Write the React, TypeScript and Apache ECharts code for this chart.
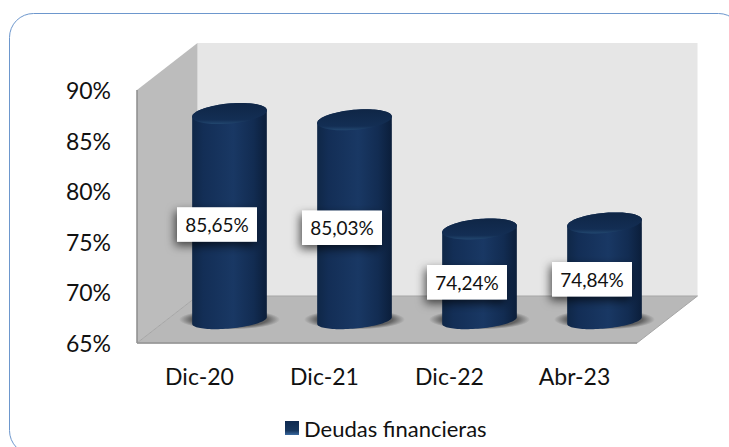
import React, { useEffect, useRef } from "react";
import * as echarts from "echarts";

const categories = ["Dic-20", "Dic-21", "Dic-22", "Abr-23"];
const values = [85.65, 85.03, 74.24, 74.84];
const valueLabels = ["85,65%", "85,03%", "74,24%", "74,84%"];
const seriesName = "Deudas financieras";

const FONT = "Lato";
const BAR_RX = 37.5;
const TOP_RY = 10;
const BASE_RY = 8;
const TILT = (-5.3 * Math.PI) / 180;

function ellipseArc(cx: number, cy: number, ry: number, fromDeg: number, toDeg: number) {
  const pts: number[][] = [];
  const n = 48;
  for (let i = 0; i <= n; i++) {
    const t = ((fromDeg + ((toDeg - fromDeg) * i) / n) * Math.PI) / 180;
    const a = BAR_RX * Math.cos(t);
    const b = ry * Math.sin(t);
    pts.push([cx + a * Math.cos(TILT) - b * Math.sin(TILT), cy + a * Math.sin(TILT) + b * Math.cos(TILT)]);
  }
  return pts;
}

function renderWalls(_p: any, api: any) {
  const x0 = 137, x1 = 637, dx = 60.5, dy = -47;
  const top = api.coord([0, 90])[1];
  const bot = api.coord([0, 65])[1];
  return {
    type: "group",
    children: [
      { type: "polygon", shape: { points: [[x0 + dx, top + dy], [x1 + dx, top + dy], [x1 + dx, bot + dy], [x0 + dx, bot + dy]] }, style: { fill: "#e6e6e6" } },
      { type: "polygon", shape: { points: [[x0, top], [x0 + dx, top + dy], [x0 + dx, bot + dy], [x0, bot]] }, style: { fill: "#bcbcbc" } },
      { type: "polygon", shape: { points: [[x0, bot], [x0 + dx, bot + dy], [x1 + dx, bot + dy], [x1, bot]] }, style: { fill: "#b8b8b8", stroke: "#a6a6a6", lineWidth: 1 } },
      { type: "line", shape: { x1: x0, y1: top, x2: x0, y2: bot }, style: { stroke: "#8c8c8c", lineWidth: 1.5 } },
      { type: "line", shape: { x1: x0, y1: bot, x2: x1, y2: bot }, style: { stroke: "#969696", lineWidth: 1.5 } },
    ],
  };
}

function renderBar(_p: any, api: any) {
  const idx = api.value(0);
  const val = api.value(1);
  const c = api.coord([idx, val]);
  const b = api.coord([idx, 65]);
  const cx = c[0] + 30;
  const topY = c[1] - 20.5;
  const baseY = b[1] - 22.5;
  const outline = [
    ...ellipseArc(cx, topY, TOP_RY, 180, 360),
    ...ellipseArc(cx, baseY, BASE_RY, 0, 180),
  ];
  const cap = ellipseArc(cx, topY, TOP_RY, 0, 360);
  const midY = (topY + baseY) / 2 + 7.5;
  const lx = c[0] + 17.5;
  return {
    type: "group",
    children: [
      {
        type: "ellipse",
        shape: { cx: cx, cy: baseY - 1, rx: BAR_RX + 13, ry: 10 },
        style: {
          fill: new echarts.graphic.RadialGradient(0.5, 0.5, 0.5, [
            { offset: 0, color: "rgba(70,70,70,0.9)" },
            { offset: 0.75, color: "rgba(70,70,70,0.75)" },
            { offset: 1, color: "rgba(70,70,70,0)" },
          ]),
        },
      },
      {
        type: "polygon",
        shape: { points: outline },
        style: {
          fill: new echarts.graphic.LinearGradient(0, 0, 1, 0, [
            { offset: 0, color: "#0f2747" },
            { offset: 0.15, color: "#132e56" },
            { offset: 0.55, color: "#193864" },
            { offset: 0.82, color: "#122c52" },
            { offset: 1, color: "#0b1e3a" },
          ]),
        },
      },
      {
        type: "polygon",
        shape: { points: cap },
        style: {
          fill: new echarts.graphic.LinearGradient(0, 0, 0, 1, [
            { offset: 0, color: "#0f2646" },
            { offset: 0.8, color: "#132e54" },
            { offset: 1, color: "#22476f" },
          ]),
        },
      },
      {
        type: "rect",
        shape: { x: lx - 40, y: midY - 17.25, width: 80, height: 34.5 },
        style: { fill: "#ffffff", shadowBlur: 10, shadowOffsetX: -2, shadowOffsetY: 4, shadowColor: "rgba(0,0,0,0.65)" },
      },
      {
        type: "text",
        style: { text: valueLabels[idx], x: lx, y: midY, align: "center", verticalAlign: "middle", font: `19px ${FONT}`, fill: "#111111" },
      },
    ],
  };
}

export default function App() {
  const ref = useRef<HTMLDivElement>(null);
  useEffect(() => {
    document.body.style.margin = "0";
    const chart = echarts.init(ref.current!, null, { renderer: "svg" });
    chart.setOption({
      animation: false,
      backgroundColor: "#ffffff",
      textStyle: { fontFamily: FONT },
      graphic: [
        {
          type: "rect",
          z: -10,
          shape: { x: 9.5, y: 13.5, width: 733, height: 441, r: 24 },
          style: { fill: "#ffffff", stroke: "#6d97cd", lineWidth: 1 },
          silent: true,
        },
      ],
      grid: { left: 137, right: 92, top: 90, bottom: 104 },
      legend: {
        data: [{
          name: seriesName,
          icon: "rect",
          itemStyle: {
            color: new echarts.graphic.LinearGradient(0, 0, 0, 1, [
              { offset: 0, color: "#0f2a50" },
              { offset: 0.7, color: "#17375f" },
              { offset: 1, color: "#3a6aa0" },
            ]),
          },
        }],
        left: 285,
        top: 417,
        padding: 0,
        itemWidth: 14,
        itemHeight: 14,
        itemGap: 5,
        textStyle: { fontFamily: FONT, fontSize: 22, color: "#111111", padding: [0, 0, 0, 0] },
      },
      xAxis: {
        type: "category",
        data: categories,
        axisLine: { show: false },
        axisTick: { show: false },
        axisLabel: { fontFamily: FONT, fontSize: 23, color: "#111111", margin: 21 },
      },
      yAxis: {
        type: "value",
        min: 65,
        max: 90,
        interval: 5,
        axisLine: { show: false },
        axisTick: { show: false },
        splitLine: { show: false },
        axisLabel: { fontFamily: FONT, fontSize: 23, color: "#111111", margin: 26, formatter: "{value}%" },
      },
      series: [
        {
          type: "custom",
          name: "walls",
          silent: true,
          z: 1,
          renderItem: renderWalls,
          data: [[0, 65]],
          encode: { x: 0, y: 1 },
        },
        {
          type: "custom",
          name: seriesName,
          z: 2,
          clip: false,
          renderItem: renderBar,
          itemStyle: { color: "#17375f" },
          data: values.map((v, i) => [i, v]),
          encode: { x: 0, y: 1 },
        },
      ],
    });
    return () => chart.dispose();
  }, []);
  return <div ref={ref} style={{ width: 729, height: 447 }} />;
}
